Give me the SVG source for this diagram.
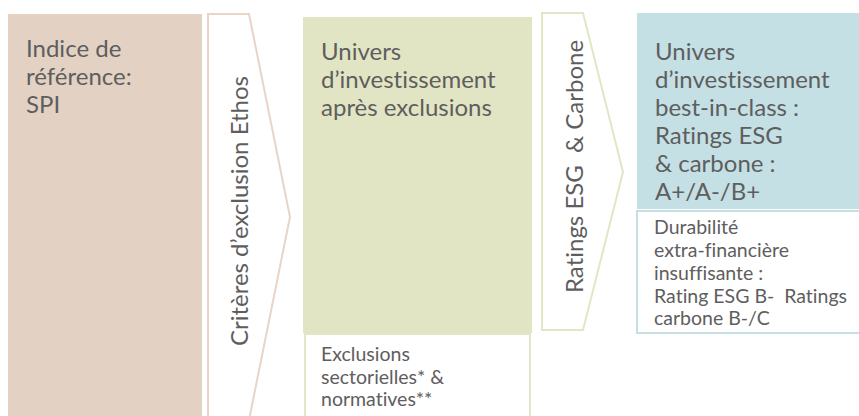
<svg xmlns="http://www.w3.org/2000/svg" width="859" height="416" viewBox="0 0 859 416">
  <style>
    text { font-variant-ligatures: none; font-feature-settings: "liga" 0, "dlig" 0; }
    .big { font-family: Lato, "Liberation Sans", sans-serif; font-size: 24px; font-weight: 400; fill: #5e5e5e; }
    .small { font-family: Lato, "Liberation Sans", sans-serif; font-size: 19.5px; font-weight: 400; fill: #5e5e5e; }
  </style>
  <rect x="0" y="0" width="859" height="416" fill="#ffffff"/>
  <g id="indice">
    <rect x="8" y="14" width="194" height="410" fill="#e3d2c3"/>
    <text class="big" x="26"><tspan x="26" y="57">Indice de</tspan><tspan x="26" y="85">référence:</tspan><tspan x="26" y="113">SPI</tspan></text>
  </g>
  <g id="connectors">
    <g id="criteres">
      <polygon points="208,14 249,14 290,217 249,420 208,420" fill="#ffffff" stroke="#e8d5c6" stroke-width="2"/>
      <text class="big" transform="translate(248,346) rotate(-90)">Critères d’exclusion Ethos</text>
    </g>
    <g id="ratings">
      <polygon points="542,13 583,13 623,172 583,330 542,330" fill="#ffffff" stroke="#e1e7c5" stroke-width="2"/>
      <text class="big" xml:space="preserve" transform="translate(583,293) rotate(-90)">Ratings ESG  &amp; Carbone</text>
    </g>
  </g>
  <g id="univers-exclusions">
    <rect x="303" y="17" width="229" height="316" fill="#e2e5c4"/>
    <text class="big"><tspan x="321" y="60">Univers</tspan><tspan x="321" y="88">d’investissement</tspan><tspan x="321" y="116">après exclusions</tspan></text>
  </g>
  <g id="exclusions">
    <rect x="305" y="334" width="225" height="100" fill="#ffffff" stroke="#e2e6c4" stroke-width="2"/>
    <text class="small"><tspan x="321" y="361">Exclusions</tspan><tspan x="321" y="384">sectorielles* &amp;</tspan><tspan x="321" y="406">normatives**</tspan></text>
  </g>
  <g id="best-in-class">
    <rect x="637" y="13" width="230" height="196" fill="#c4e0e5"/>
    <text class="big"><tspan x="655" y="60">Univers</tspan><tspan x="655" y="88">d’investissement</tspan><tspan x="655" y="116">best-in-class :</tspan><tspan x="655" y="144">Ratings ESG</tspan><tspan x="655" y="172">&amp; carbone :</tspan><tspan x="655" y="200">A+/A-/B+</tspan></text>
  </g>
  <g id="durabilite">
    <rect x="637" y="211" width="230" height="122" fill="#ffffff" stroke="#c4e0e5" stroke-width="2"/>
    <text class="small" xml:space="preserve"><tspan x="654" y="234">Durabilité</tspan><tspan x="654" y="257">extra-financière</tspan><tspan x="654" y="280">insuffisante :</tspan><tspan x="654" y="303">Rating ESG B-  Ratings</tspan><tspan x="654" y="325">carbone B-/C</tspan></text>
  </g>
</svg>
